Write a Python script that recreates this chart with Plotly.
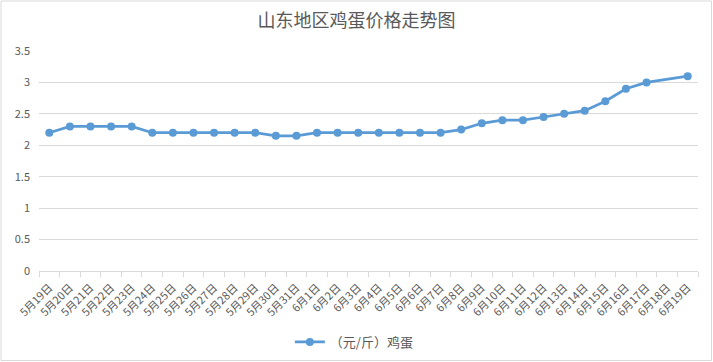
import plotly.graph_objects as go

dates = ["5月19日", "5月20日", "5月21日", "5月22日", "5月23日", "5月24日", "5月25日",
         "5月26日", "5月27日", "5月28日", "5月29日", "5月30日", "5月31日",
         "6月1日", "6月2日", "6月3日", "6月4日", "6月5日", "6月6日", "6月7日",
         "6月8日", "6月9日", "6月10日", "6月11日", "6月12日", "6月13日", "6月14日",
         "6月15日", "6月16日", "6月17日", "6月18日", "6月19日"]
prices = [2.2, 2.3, 2.3, 2.3, 2.3, 2.2, 2.2, 2.2, 2.2, 2.2, 2.2, 2.15, 2.15,
          2.2, 2.2, 2.2, 2.2, 2.2, 2.2, 2.2, 2.25, 2.35, 2.4, 2.4, 2.45, 2.5, 2.55,
          2.7, 2.9, 3.0, None, 3.1]
series_name = "（元/斤）鸡蛋"
title_text = "山东地区鸡蛋价格走势图"

W, H = 713, 362
ML, MR, MT, MB = 39, 15, 51, 91
FONT = "Noto Sans CJK SC, Microsoft YaHei, sans-serif"
TXT = "#595959"
GRID = "#d9d9d9"

fig = go.Figure()
fig.add_trace(go.Scatter(
    x=dates, y=prices, name=series_name, mode="lines+markers",
    connectgaps=True,
    line=dict(color="#5B9BD5", width=2.75),
    marker=dict(color="#5B9BD5", size=8),
))

pw = W - ML - MR
ph = H - MT - MB
fig.add_shape(type="rect", xref="paper", yref="paper",
              x0=(1 - ML) / pw, x1=(W - 1.5 - ML) / pw,
              y0=-(H - 1.5 - MT - ph) / ph, y1=1 + (MT - 1) / ph,
              line=dict(color=GRID, width=1), layer="below")

fig.update_layout(
    width=W, height=H,
    margin=dict(l=ML, r=MR, t=MT, b=MB, pad=0, autoexpand=False),
    paper_bgcolor="white", plot_bgcolor="white",
    font=dict(family=FONT, color=TXT, size=11),
    title=dict(text=title_text, x=0.5, xref="container", xanchor="center",
               y=1 - 21 / H, yanchor="middle",
               font=dict(size=18, color=TXT, family=FONT)),
    showlegend=True,
    legend=dict(orientation="h", x=0.497, xanchor="center", xref="container",
                y=1 - 342 / H, yref="container", yanchor="middle",
                font=dict(size=13, color=TXT), itemwidth=30),
    xaxis=dict(type="category", range=[-0.5, len(dates) - 0.5],
               tickson="boundaries", ticks="outside", ticklen=5, tickcolor=GRID,
               showgrid=False, showline=True, linecolor=GRID, linewidth=1,
               tickangle=-45, tickfont=dict(size=11, color=TXT), zeroline=False,
               ticklabelstandoff=5, automargin=False),
    yaxis=dict(range=[0, 3.5], dtick=0.5, tick0=0, showgrid=True,
               gridcolor=GRID, gridwidth=1, zeroline=False, showline=False,
               ticks="", tickfont=dict(size=11, color=TXT),
               ticklabelstandoff=8, automargin=False),
)

fig.write_html("out.html", config={"displayModeBar": False},
               post_script="document.body.style.margin='0';document.body.style.padding='0';")
